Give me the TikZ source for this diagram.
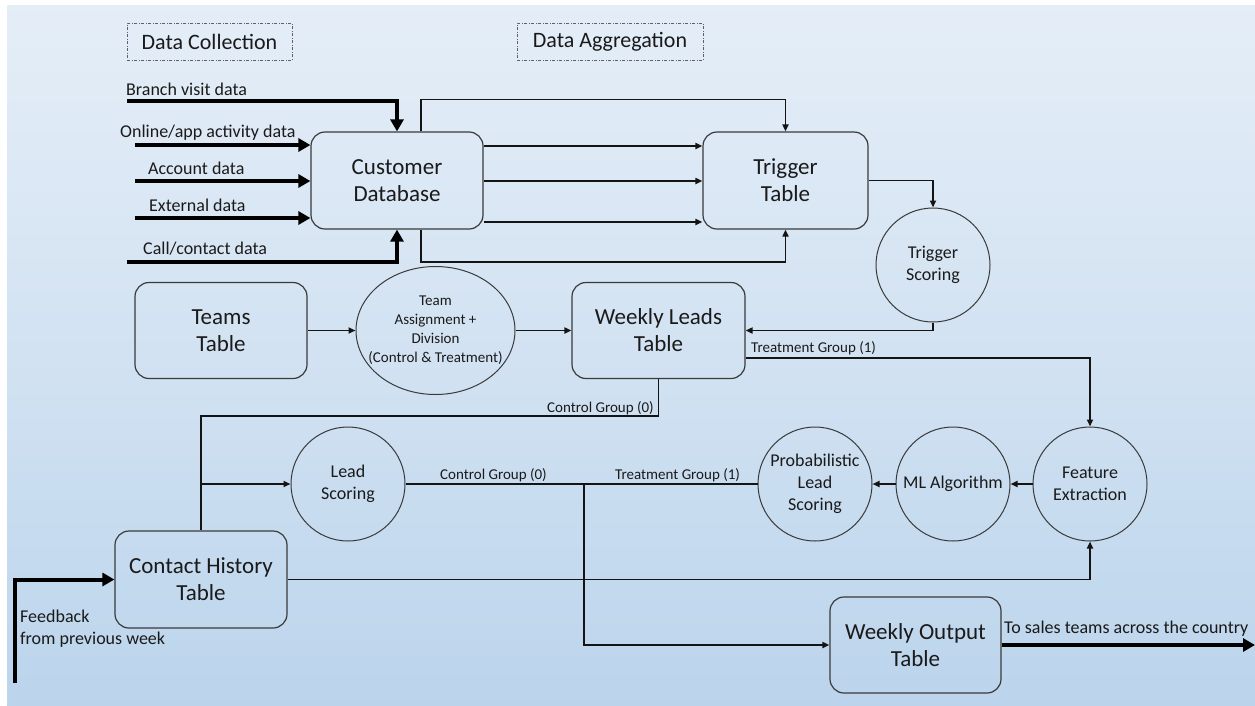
\documentclass[tikz,border=0pt]{standalone}
\usepackage{fontspec}
\setmainfont{Carlito}
\usetikzlibrary{arrows.meta,shapes.geometric}

\definecolor{bgTop}{HTML}{F7FAFD}
\definecolor{bgHigh}{HTML}{EAF1F9}
\definecolor{bgMid}{HTML}{D2E2F2}
\definecolor{bgDeep}{HTML}{B4D0EA}
\definecolor{bgBot}{HTML}{C8DCF0}
\definecolor{inkc}{HTML}{1A1A1A}
\definecolor{boxc}{HTML}{3A3A3A}
\definecolor{linec}{HTML}{141414}

\pgfdeclareverticalshading{pagebg}{100bp}{color(0bp)=(bgBot); color(17bp)=(bgDeep); color(50bp)=(bgMid); color(82bp)=(bgHigh); color(100bp)=(bgTop)}

\newcommand\fBox{\fontsize{23}{27}\selectfont}
\newcommand\fMid{\fontsize{18}{22}\selectfont}
\newcommand\fSmall{\fontsize{15}{19}\selectfont}
\newcommand\fStage{\fontsize{22}{26}\selectfont}

\begin{document}
\begin{tikzpicture}[x=1pt,y=-1pt,
  box/.style={draw=boxc, line width=1.2pt, rounded corners=14pt, align=center,
    font=\fBox, text=inkc, inner sep=0pt},
  bubble/.style={draw=boxc, line width=1pt, circle, minimum size=114pt,
    align=center, font=\fMid, text=inkc, inner sep=0pt},
  stagebox/.style={draw=boxc!80, line width=0.8pt,
    dash pattern=on 3pt off 1.5pt on 1pt off 1.5pt,
    minimum height=37pt, font=\fStage, text=inkc, inner sep=0pt},
  link/.style={draw=linec, line width=1.8pt},
  linkarrow/.style={link, -{Triangle[length=7pt,width=6pt]}},
  feed/.style={draw=black, line width=4pt, -{Triangle[length=12pt,width=13pt]}},
  lbl/.style={font=\fMid, text=inkc, inner sep=0pt, anchor=base west},
  tag/.style={font=\fSmall, text=inkc, inner sep=0pt}
]
\useasboundingbox (0,0) rectangle (1255,705);
\fill[white] (0,0) rectangle (1255,705);
\fill[shading=pagebg] (7,5) rectangle (1255,705);

% stage headings
\node[stagebox, minimum width=165pt] (dc) at (209.5,41.5) {Data Collection};
\node[stagebox, minimum width=186pt] (da) at (610,41.5) {Data Aggregation};

% tables
\node[box, minimum width=172pt, minimum height=97pt] (cdb) at (397,180.5) {Customer\\Database};
\node[box, minimum width=165pt, minimum height=97pt] (trig) at (785.5,180.5) {Trigger\\Table};
\node[box, minimum width=172pt, minimum height=96pt] (teams) at (221,330.5) {Teams\\Table};
\node[box, minimum width=173pt, minimum height=96pt] (leads) at (658.5,330.5) {Weekly Leads\\Table};
\node[box, minimum width=172pt, minimum height=97pt] (chist) at (201,579.5) {Contact History\\Table};
\node[box, minimum width=171pt, minimum height=96pt] (wout) at (915.5,645) {Weekly Output\\Table};

% processes
\node[bubble] (tsc) at (933,265) {Trigger\\Scoring};
\node[draw=boxc, line width=1pt, ellipse, minimum width=159pt, minimum height=128pt, inner sep=0pt] (assign) at (435.5,330.5) {};
\node[tag, align=center] (assignT) at (assign) {Team\\Assignment +\\Division\\(Control \& Treatment)};
\node[bubble] (lsc) at (348,484) {Lead\\Scoring};
\node[bubble] (prob) at (815,484) {Probabilistic\\Lead\\Scoring};
\node[bubble] (ml) at (953,484) {ML Algorithm};
\node[bubble] (feat) at (1090,484) {Feature\\Extraction};

% helper levels
\coordinate (yA) at (0,146);
\coordinate (yB) at (0,181);
\coordinate (yD) at (0,222);
\coordinate (yT) at (0,358);
\coordinate (yC) at (0,416);
\coordinate (jn) at (584,484);

% incoming data feeds
\coordinate (bvS) at (127,101);
\coordinate (onS) at (135,145);
\coordinate (acS) at (135,181);
\coordinate (exS) at (135,218);
\coordinate (ccS) at (127,262);
\draw[feed] (bvS) -| (cdb.north);
\draw[feed] (onS) -- (onS -| cdb.west);
\draw[feed] (acS) -- (acS -| cdb.west);
\draw[feed] (exS) -- (exS -| cdb.west);
\draw[feed] (ccS) -| (cdb.south);
\node[lbl] (bvL) at (126,95) {Branch visit data};
\node[lbl] (onL) at (120,137) {Online/app activity data};
\node[lbl] (acL) at (148,174) {Account data};
\node[lbl] (exL) at (149,211) {External data};
\node[lbl] (ccL) at (143,254) {Call/contact data};

% aggregation into the trigger table
\draw[linkarrow] ([xshift=24pt]cdb.north) -- ++(0,-32) -| (trig.north);
\draw[linkarrow] (cdb.east |- yA) -- (trig.west |- yA);
\draw[linkarrow] (cdb.east |- yB) -- (trig.west |- yB);
\draw[linkarrow] (cdb.east |- yD) -- (trig.west |- yD);
\draw[linkarrow] ([xshift=24pt]cdb.south) -- ++(0,32) -| (trig.south);

% scoring and weekly leads
\draw[linkarrow] (trig.east) -| (tsc.north);
\draw[linkarrow] (tsc.south) |- (leads.east);
\draw[linkarrow] (teams.east) -- (assign.west);
\draw[linkarrow] (assign.east) -- (leads.west);

% treatment branch
\draw[linkarrow] (leads.east |- yT) -| (feat.north);
\node[tag, anchor=base west] (trtA) at (751,352) {Treatment Group (1)};
\draw[linkarrow] (feat.west) -- (ml.east);
\draw[linkarrow] (ml.west) -- (prob.east);

% control branch
\draw[link] (leads.south) |- (yC -| chist.north) -- (chist.north);
\node[tag, anchor=base east] (ctlA) at (654,412) {Control Group (0)};
\draw[linkarrow] (chist.north |- lsc.west) -- (lsc.west);

% merge into the weekly output
\draw[link] (lsc.east) -- (jn);
\draw[link] (prob.west) -- (jn);
\draw[linkarrow] (jn) |- (wout.west);
\node[tag, anchor=base west] (ctlB) at (440,479) {Control Group (0)};
\node[tag, anchor=base west] (trtB) at (615,479) {Treatment Group (1)};

% contact history feedback loop
\draw[linkarrow] (chist.east) -| (feat.south);
\coordinate (fbS) at (15,683);
\draw[feed] (fbS) |- (chist.west);
\node[font=\fMid, text=inkc, inner sep=0pt, anchor=north west, align=left] (fbL) at (20,610) {Feedback\\from previous week};

% output to sales teams
\coordinate (outE) at (1255,645);
\draw[feed] (wout.east) -- (wout.east -| outE);
\node[lbl] (outL) at (1004,633) {To sales teams across the country};
\end{tikzpicture}
\end{document}
